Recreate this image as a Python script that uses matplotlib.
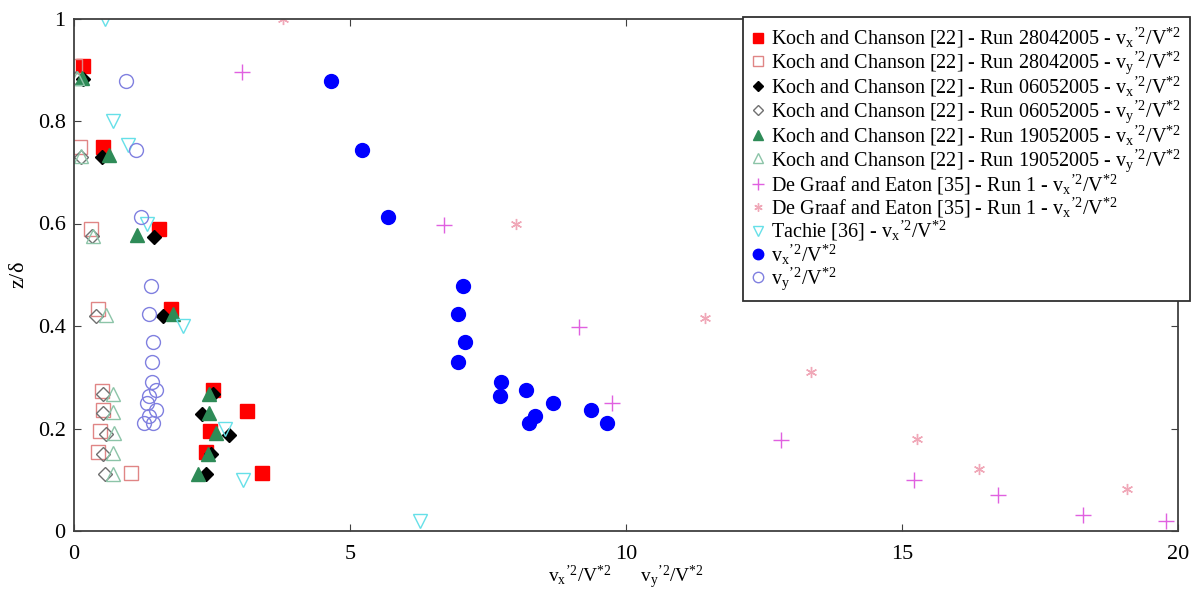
import matplotlib
matplotlib.use("Agg")
import matplotlib.pyplot as plt
from matplotlib.ticker import FuncFormatter

plt.rcParams['font.family'] = ['Liberation Serif', 'DejaVu Serif']
plt.rcParams['mathtext.fontset'] = 'custom'
plt.rcParams['mathtext.rm'] = 'Liberation Serif'
plt.rcParams['mathtext.it'] = 'Liberation Serif'

VX = "v$_\\mathrm{x}$$^\\mathrm{\u2019 2}$/V$^\\mathrm{*2}$"
VY = "v$_\\mathrm{y}$$^\\mathrm{\u2019 2}$/V$^\\mathrm{*2}$"

# Koch and Chanson, run 28042005
kc28_vx_x = [0.16, 0.53, 1.54, 1.76, 2.51, 3.13, 2.46, 2.39, 3.40]
kc28_vx_z = [0.907, 0.749, 0.590, 0.434, 0.275, 0.234, 0.195, 0.154, 0.114]
kc28_vy_x = [0.02, 0.11, 0.31, 0.43, 0.50, 0.52, 0.48, 0.44, 1.03]
kc28_vy_z = [0.907, 0.749, 0.590, 0.434, 0.273, 0.236, 0.195, 0.154, 0.113]
# run 06052005
kc06_vx_x = [0.16, 0.50, 1.45, 1.61, 2.52, 2.32, 2.80, 2.49, 2.40]
kc06_vx_z = [0.881, 0.730, 0.574, 0.419, 0.268, 0.228, 0.187, 0.151, 0.111]
kc06_vy_x = [0.04, 0.12, 0.32, 0.40, 0.53, 0.53, 0.58, 0.52, 0.56]
kc06_vy_z = [0.883, 0.730, 0.576, 0.419, 0.268, 0.230, 0.189, 0.150, 0.111]
# run 19052005
kc19_vx_x = [0.14, 0.64, 1.15, 1.79, 2.45, 2.45, 2.57, 2.43, 2.25]
kc19_vx_z = [0.883, 0.733, 0.578, 0.423, 0.268, 0.230, 0.191, 0.151, 0.112]
kc19_vy_x = [0.05, 0.13, 0.34, 0.58, 0.71, 0.71, 0.73, 0.71, 0.70]
kc19_vy_z = [0.883, 0.731, 0.576, 0.421, 0.268, 0.232, 0.191, 0.152, 0.112]

# De Graaf and Eaton, run 1
dge_plus_x = [3.04, 6.70, 9.14, 9.75, 12.80, 15.22, 16.74, 18.27, 19.78]
dge_plus_z = [0.895, 0.597, 0.398, 0.249, 0.178, 0.099, 0.070, 0.031, 0.019]
dge_star_x = [3.78, 8.01, 11.44, 13.35, 15.27, 16.39, 19.07]
dge_star_z = [1.000, 0.600, 0.415, 0.310, 0.180, 0.121, 0.081]

# Tachie
tachie_x = [0.56, 0.71, 0.98, 1.33, 1.97, 2.74, 3.07, 6.26]
tachie_z = [1.000, 0.800, 0.753, 0.600, 0.400, 0.200, 0.099, 0.020]

# present results
z_pts = [0.878, 0.744, 0.612, 0.478, 0.424, 0.369, 0.330, 0.290,
         0.276, 0.263, 0.250, 0.237, 0.224, 0.210, 0.210]
vx_pts = [4.66, 5.21, 5.68, 7.05, 6.96, 7.09, 6.96, 7.74,
          8.19, 7.72, 8.67, 9.37, 8.35, 8.25, 9.66]
vy_pts = [0.95, 1.12, 1.21, 1.39, 1.35, 1.44, 1.41, 1.41,
          1.49, 1.36, 1.33, 1.49, 1.35, 1.26, 1.44]

fig = plt.figure(figsize=(11.94, 5.92), dpi=100)
ax = fig.add_axes([74 / 1194, 61 / 592, 1104 / 1194, 512.5 / 592])

kw = dict(linestyle='none')
ax.plot(kc28_vx_x, kc28_vx_z, marker='s', ms=10, color='#ff0000',
        label='Koch and Chanson [22] - Run 28042005 - ' + VX, **kw)
ax.plot(kc28_vy_x, kc28_vy_z, marker='s', ms=10, mfc='none', mec='#e08585',
        mew=1.0, label='Koch and Chanson [22] - Run 28042005 - ' + VY, **kw)
ax.plot(kc06_vx_x, kc06_vx_z, marker='D', ms=7, color='black',
        label='Koch and Chanson [22] - Run 06052005 - ' + VX, **kw)
ax.plot(kc06_vy_x, kc06_vy_z, marker='D', ms=7, mfc='none', mec='#707070',
        mew=1.0, label='Koch and Chanson [22] - Run 06052005 - ' + VY, **kw)
ax.plot(kc19_vx_x, kc19_vx_z, marker='^', ms=10, color='#2e8b57',
        label='Koch and Chanson [22] - Run 19052005 - ' + VX, **kw)
ax.plot(kc19_vy_x, kc19_vy_z, marker='^', ms=10, mfc='none', mec='#8cc4a8',
        mew=1.0, label='Koch and Chanson [22] - Run 19052005 - ' + VY, **kw)
ax.plot(dge_plus_x, dge_plus_z, marker='+', ms=11, color='#e060e0', mew=1.0,
        label='De Graaf and Eaton [35] - Run 1 - ' + VX, **kw)
ax.plot(dge_star_x, dge_star_z, marker=(6, 2, 0), ms=8, color='#f0a8b8',
        mew=1.0, label='De Graaf and Eaton [35] - Run 1 - ' + VX, **kw)
ax.plot(tachie_x, tachie_z, marker='v', ms=10, mfc='none', mec='#66e0e8',
        mew=1.0, label='Tachie [36] - ' + VX, **kw)
ax.plot(vx_pts, z_pts, marker='o', ms=10, color='#0000ff', label=VX, **kw)
ax.plot(vy_pts, z_pts, marker='o', ms=10, mfc='none', mec='#8080e0',
        mew=1.0, label=VY, **kw)

ax.set_xlim(0, 20)
ax.set_ylim(0, 1)
ax.set_xticks([0, 5, 10, 15, 20])
ax.set_yticks([0, 0.2, 0.4, 0.6, 0.8, 1])
ax.yaxis.set_major_formatter(FuncFormatter(lambda v, p: '%g' % v))
ax.tick_params(direction='in', top=True, right=True, length=5,
               labelsize=16, color='#404040')
ax.tick_params(axis='x', pad=10)
ax.tick_params(axis='y', pad=6)
for s in ax.spines.values():
    s.set_color('#404040')
    s.set_linewidth(1.3)

ax.set_xlabel(VX + '      ' + VY, fontsize=14, labelpad=0)
ax.set_ylabel(r'z/$\mathrm{\delta}$', fontsize=16, labelpad=6)

leg = ax.legend(loc='upper left', bbox_to_anchor=(743 / 1194, 1 - 17 / 592),
                bbox_transform=fig.transFigure, fontsize=14.5,
                frameon=True, fancybox=False, framealpha=1, edgecolor='#303030',
                markerscale=0.75, handlelength=0.6, handletextpad=0.35,
                labelspacing=-0.05, borderpad=0.45, borderaxespad=0)
leg.get_frame().set_linewidth(1.3)

fig.savefig('out.png', dpi=100)
